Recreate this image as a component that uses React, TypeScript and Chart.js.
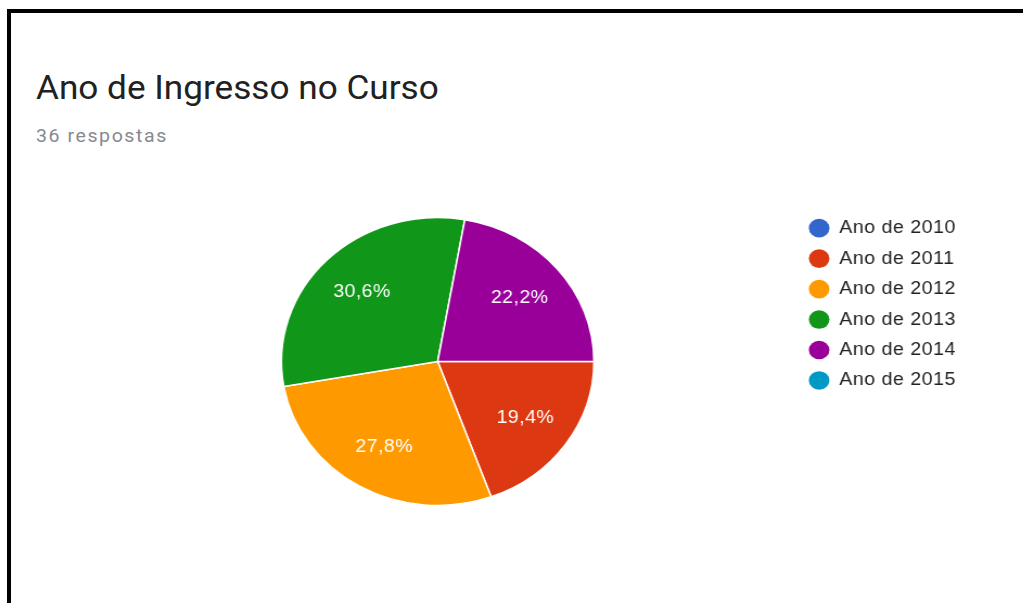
import React, { useEffect, useRef } from 'react';
import { Chart, registerables } from 'chart.js';

Chart.register(...registerables);

// ---- data ----
const chartTitle = 'Ano de Ingresso no Curso';
const chartSubtitle = '36 respostas';
const categories = ['Ano de 2010', 'Ano de 2011', 'Ano de 2012', 'Ano de 2013', 'Ano de 2014', 'Ano de 2015'];
const responses = [0, 7, 10, 11, 8, 0];
const sliceColors = ['#3366cc', '#dc3912', '#ff9900', '#109618', '#990099', '#0099c6'];

// ---- layout (buffer px; canvas is stretched horizontally by SX) ----
const SX = 1.085;
const BUF_W = 943;
const BUF_H = 603;
const PIE_RADIUS = 144;
const PIE_CX = 403.4;
const LEGEND_LEFT = 733.0;
const CANVAS_FONT = '"Liberation Sans", Arial, sans-serif';

const spacingPlugin = {
  id: 'letterSpacingPlugin',
  beforeUpdate(chart: any) {
    chart.ctx.letterSpacing = '0.5px';
  },
  beforeLayout(chart: any) {
    chart.ctx.letterSpacing = '0.5px';
  },
  beforeDraw(chart: any) {
    chart.ctx.letterSpacing = '0.5px';
  },
};

const pctLabels = {
  id: 'pctLabels',
  afterDatasetsDraw(chart: any) {
    const ctx = chart.ctx;
    const meta = chart.getDatasetMeta(0);
    const data = chart.data.datasets[0].data as number[];
    const total = data.reduce((a, b) => a + b, 0);
    ctx.save();
    ctx.font = `18px ${CANVAS_FONT}`;
    ctx.fillStyle = '#ffffff';
    ctx.textAlign = 'center';
    ctx.textBaseline = 'middle';
    ctx.letterSpacing = '0.4px';
    meta.data.forEach((arc: any, i: number) => {
      const v = data[i];
      if (!v) return;
      const p = arc.getProps(['x', 'y', 'startAngle', 'endAngle', 'outerRadius'], true);
      const mid = (p.startAngle + p.endAngle) / 2;
      const r = p.outerRadius * 0.685;
      const txt = ((v / total) * 100).toFixed(1).replace('.', ',') + '%';
      ctx.fillText(txt, p.x + Math.cos(mid) * r, p.y + Math.sin(mid) * r);
    });
    ctx.restore();
  },
};

export default function App() {
  const canvasRef = useRef<HTMLCanvasElement | null>(null);

  useEffect(() => {
    const canvas = canvasRef.current;
    if (!canvas) return;
    const padding = { top: 206.7, bottom: 86.7, left: 2 * PIE_CX - LEGEND_LEFT, right: 20 };
    const config: any = {
      type: 'pie',
      data: {
        labels: categories,
        datasets: [
          {
            data: responses,
            backgroundColor: sliceColors,
            borderColor: '#ffffff',
            borderWidth: (c: any) => (responses[c.dataIndex] ? 1.5 : 0),
            radius: PIE_RADIUS,
            rotation: 90,
          },
        ],
      },
      options: {
        responsive: false,
        animation: false,
        events: [],
        layout: { padding },
        plugins: {
          legend: {
            position: 'right',
            align: 'start',
            labels: {
              usePointStyle: true,
              pointStyle: 'circle',
              pointStyleWidth: 19,
              boxHeight: 13.2,
              padding: 12.46,
              color: '#222222',
              font: { size: 18, family: CANVAS_FONT },
              generateLabels: (ch: any) =>
                (Chart as any).overrides.doughnut.plugins.legend.labels
                  .generateLabels(ch)
                  .map((l: any) => ({ ...l, lineWidth: 0, strokeStyle: 'rgba(0,0,0,0)' })),
            },
          },
          tooltip: { enabled: false },
          title: { display: false },
        },
      },
      plugins: [spacingPlugin, pctLabels],
    };
    const chart = new Chart(canvas, config);
    const dx = (chart as any).legend.left - LEGEND_LEFT;
    if (Math.abs(dx) > 0.01) {
      padding.right = padding.right + dx;
      chart.update();
    }
    return () => chart.destroy();
  }, []);

  return (
    <div
      style={{
        position: 'fixed',
        left: 0,
        top: 0,
        width: 1023,
        height: 603,
        overflow: 'hidden',
        background: '#ffffff',
      }}
    >
      <div
        style={{
          position: 'absolute',
          left: 7,
          top: 9,
          width: 1016,
          height: 594,
          borderTop: '4px solid #000',
          borderLeft: '4px solid #000',
          boxSizing: 'border-box',
        }}
      />
      <div
        style={{
          position: 'absolute',
          left: 35.5,
          top: 72.4,
          fontFamily: 'Roboto, "Liberation Sans", Arial, sans-serif',
          fontSize: 32.4,
          lineHeight: '32.4px',
          color: '#212121',
          whiteSpace: 'nowrap',
          transform: `scaleX(${SX})`,
          transformOrigin: '0 0',
        }}
      >
        {chartTitle}
      </div>
      <div
        style={{
          position: 'absolute',
          left: 36,
          top: 127.4,
          fontFamily: 'Roboto, "Liberation Sans", Arial, sans-serif',
          fontSize: 18,
          lineHeight: '18px',
          letterSpacing: '1.45px',
          color: '#858a90',
          whiteSpace: 'nowrap',
          transform: `scaleX(${SX})`,
          transformOrigin: '0 0',
        }}
      >
        {chartSubtitle}
      </div>
      <canvas
        ref={canvasRef}
        width={BUF_W}
        height={BUF_H}
        style={{
          position: 'absolute',
          left: 0,
          top: 0,
          width: BUF_W,
          height: BUF_H,
          transform: `scaleX(${SX})`,
          transformOrigin: '0 0',
        }}
      />
    </div>
  );
}
